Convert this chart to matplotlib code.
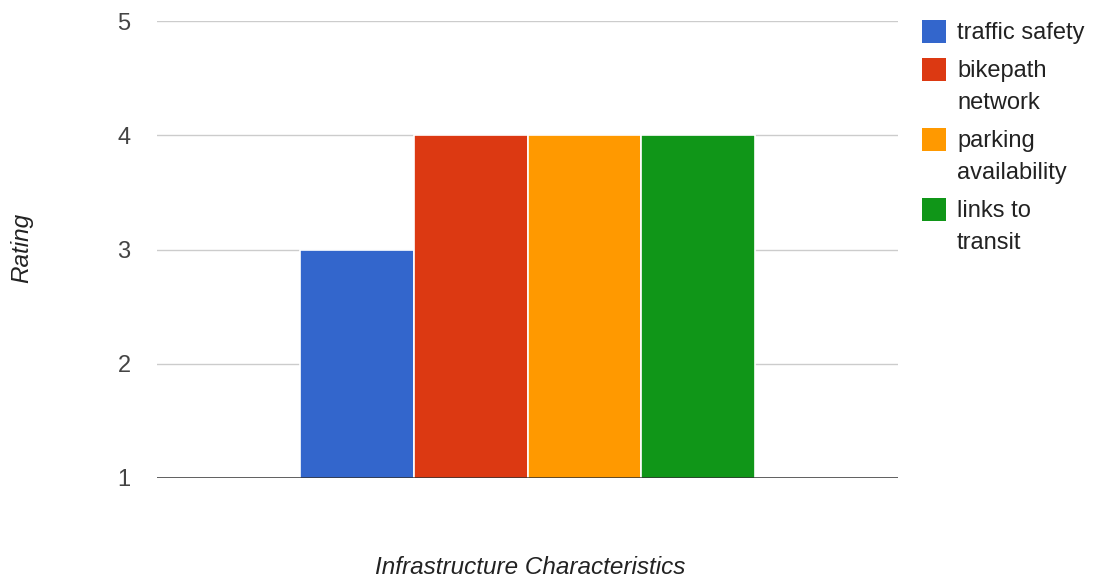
import matplotlib
matplotlib.use("Agg")
import matplotlib.pyplot as plt
from matplotlib.patches import Rectangle

categories = ["Infrastructure Characteristics"]
series = ["traffic safety", "bikepath\nnetwork", "parking\navailability", "links to\ntransit"]
values = [3, 4, 4, 4]
colors = ["#3366cc", "#dc3912", "#ff9900", "#109618"]
yticks = [1, 2, 3, 4, 5]

plt.rcParams['font.family'] = ['Liberation Sans', 'DejaVu Sans']
W, H = 1098, 584
fig = plt.figure(figsize=(W/100, H/100), dpi=100)
ax = fig.add_axes([157/W, 1-478/H, (898-157)/W, (478-21)/H])

bw = 0.1535
n = len(values)
for i, (v, c) in enumerate(zip(values, colors)):
    x = (i - (n-1)/2) * bw
    ax.bar(x, v, width=bw, color=c, edgecolor='white', linewidth=1.2, zorder=3)

ax.set_xlim(-0.5, 0.5)
ax.set_ylim(1, 5)
ax.set_yticks(yticks)
ax.set_yticklabels([str(t) for t in yticks])
ax.set_xticks([])
ax.grid(axis='y', color='#cccccc', linewidth=1, zorder=0)
ax.axhline(1, color='#333333', linewidth=1.8, zorder=4)
for s in ax.spines.values():
    s.set_visible(False)
ax.tick_params(axis='y', length=0, pad=19, labelsize=17, labelcolor='#444444')

fig.text(22/W, 1-248/H, "Rating", rotation=90, style='italic', fontsize=17.5,
         color='#222222', ha='center', va='center')
fig.text(530/W, 1-567/H, categories[0], style='italic', fontsize=17.5,
         color='#222222', ha='center', va='center')

# legend
tops = [20, 58, 128, 198]
for lab, c, t in zip(series, colors, tops):
    fig.patches.append(Rectangle((922/W, 1-(t+23)/H), 24/W, 23/H,
                                 transform=fig.transFigure, facecolor=c,
                                 edgecolor='none'))
    fig.text(957/W, 1-(t+2)/H, lab, fontsize=17, color='#222222',
             ha='left', va='top', linespacing=1.56)

fig.savefig("out.png", dpi=100)
